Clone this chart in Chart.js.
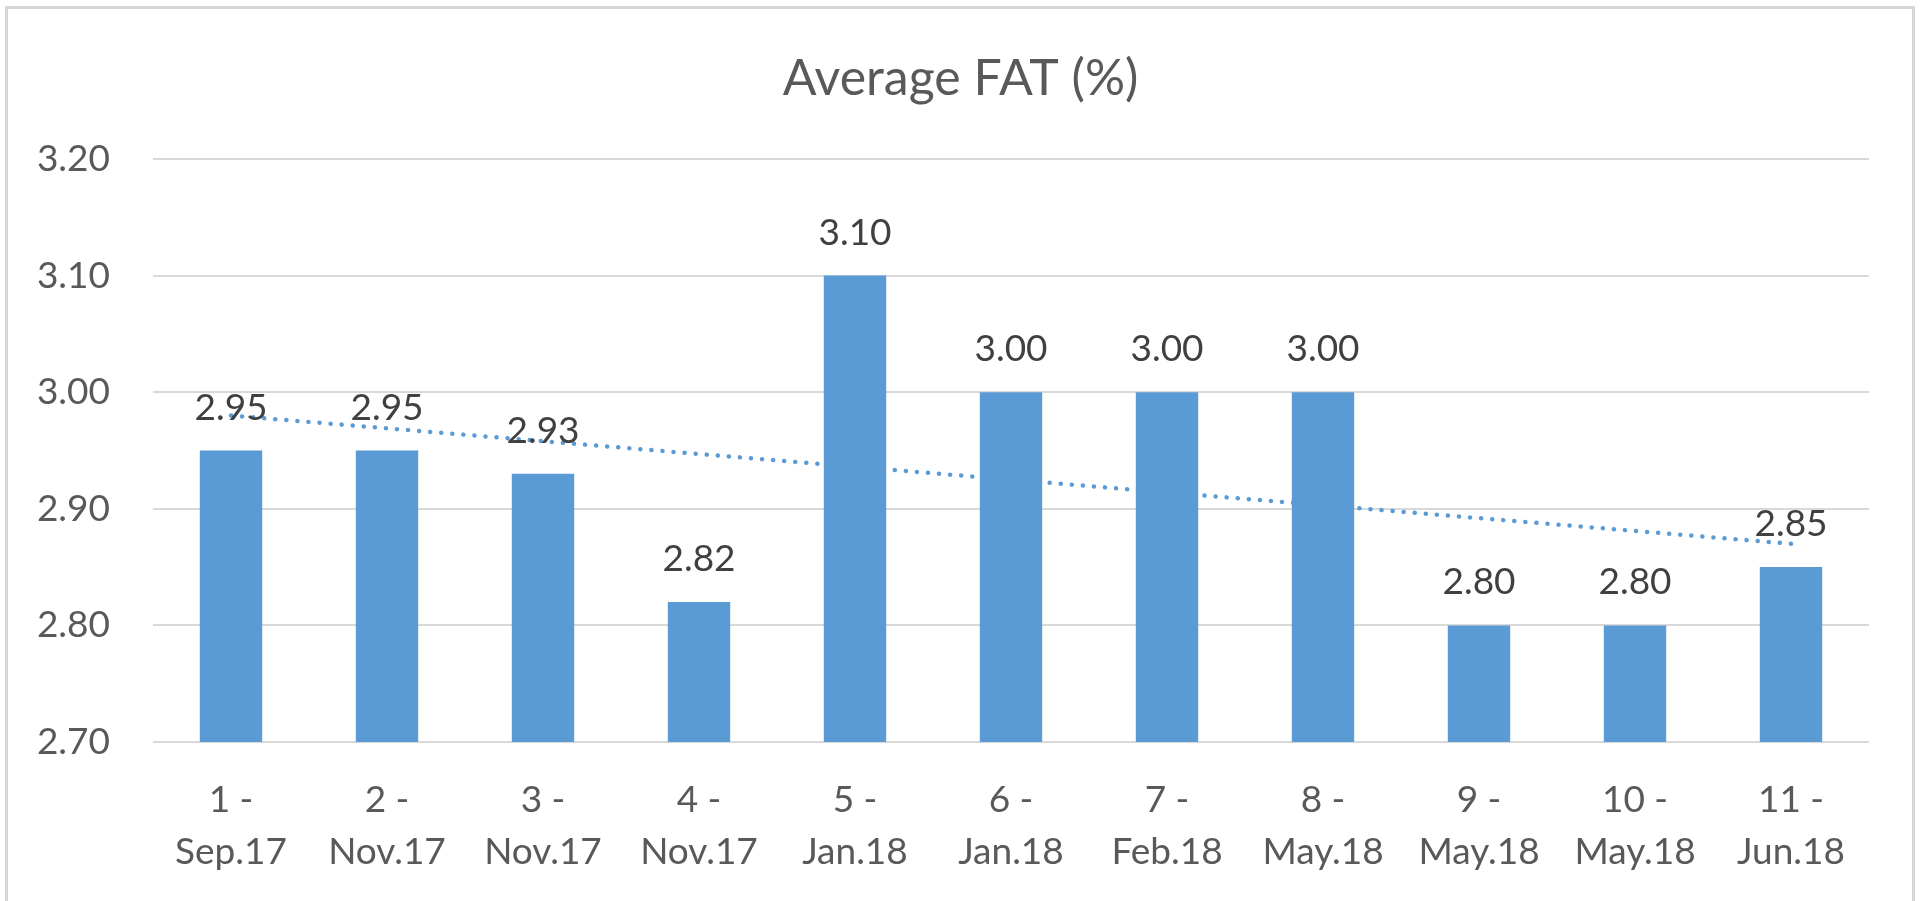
<!DOCTYPE html>
<html>
<head>
<meta charset="utf-8">
<script src="https://cdn.jsdelivr.net/npm/chart.js@4/dist/chart.umd.min.js"></script>
<style>
    html, body { margin: 0; padding: 0; background: #fff; overflow: hidden; }
    #frame {
        position: absolute; left: 5px; top: 6px; width: 1910px; height: 920px;
        border: 3px solid #d6d6d6; box-sizing: border-box;
    }
    #wrap { position: absolute; left: 0; top: 0; width: 1921px; height: 901px; }
</style>
</head>
<body>
<div id="frame"></div>
<div id="wrap"><canvas id="myChart"></canvas></div>
<script>
// categories, two lines each
const categories = [
    ["1 -", "Sep.17"], ["2 -", "Nov.17"], ["3 -", "Nov.17"], ["4 -", "Nov.17"],
    ["5 -", "Jan.18"], ["6 -", "Jan.18"], ["7 -", "Feb.18"], ["8 -", "May.18"],
    ["9 -", "May.18"], ["10 -", "May.18"], ["11 -", "Jun.18"]
];
const fatValues = [2.95, 2.95, 2.93, 2.82, 3.10, 3.00, 3.00, 3.00, 2.80, 2.80, 2.85];
// linear trend, end points
const trendValues = [2.98, null, null, null, null, null, null, null, null, null, 2.87];
const yTicks = [2.70, 2.80, 2.90, 3.00, 3.10, 3.20];
const chartTitle = "Average FAT (%)";

const FONT = "Lato, 'Liberation Sans', sans-serif";
const barBlue = "#5b9bd5";

// draws the value above every bar
const barLabels = {
    id: "barLabels",
    afterDatasetsDraw(chart) {
        const ctx = chart.ctx;
        const meta = chart.getDatasetMeta(0);
        ctx.save();
        ctx.font = "37px " + FONT;
        ctx.fillStyle = "#404040";
        ctx.textAlign = "center";
        ctx.textBaseline = "alphabetic";
        meta.data.forEach((bar, i) => {
            ctx.fillText(fatValues[i].toFixed(2), bar.x, bar.y - 31);
        });
        ctx.restore();
    }
};

// title centred on the whole page, not on the chart box
const pageTitle = {
    id: "pageTitle",
    afterDraw(chart) {
        const ctx = chart.ctx;
        ctx.save();
        ctx.font = "50px " + FONT;
        ctx.fillStyle = "#595959";
        ctx.textAlign = "center";
        ctx.textBaseline = "middle";
        ctx.fillText(chartTitle, chart.width / 2, 79);
        ctx.restore();
    }
};

new Chart("myChart", {
    data: {
        labels: categories,
        datasets: [{
            type: "bar",
            data: fatValues,
            backgroundColor: barBlue,
            barPercentage: 0.5,
            categoryPercentage: 0.8,
            order: 2
        }, {
            type: "line",
            data: trendValues,
            spanGaps: true,
            borderColor: barBlue,
            borderWidth: 4.5,
            borderDash: [0.1, 11],
            borderCapStyle: "round",
            pointRadius: 0,
            fill: false,
            order: 1
        }]
    },
    options: {
        responsive: true,
        maintainAspectRatio: false,
        animation: false,
        layout: {
            padding: { left: 0, right: 52, top: 159, bottom: 0 }
        },
        plugins: {
            legend: { display: false },
            tooltip: { enabled: false },
            title: { display: false }
        },
        scales: {
            x: {
                afterFit(scale) { scale.height = 159; },
                grid: { display: false, drawTicks: false },
                border: { display: false },
                ticks: {
                    color: "#595959",
                    font: { family: FONT, size: 37, lineHeight: 52 / 37 },
                    padding: 32,
                    maxRotation: 0,
                    autoSkip: false
                }
            },
            y: {
                min: 2.7,
                max: 3.2,
                afterFit(scale) { scale.width = 153; },
                afterBuildTicks(scale) { scale.ticks = yTicks.map(v => ({ value: v })); },
                grid: { color: "#d9d9d9", lineWidth: 2, drawTicks: false },
                border: { display: false },
                ticks: {
                    color: "#595959",
                    font: { family: FONT, size: 37 },
                    padding: 43,
                    callback: v => v.toFixed(2)
                }
            }
        }
    },
    plugins: [barLabels, pageTitle]
});
</script>
</body>
</html>
